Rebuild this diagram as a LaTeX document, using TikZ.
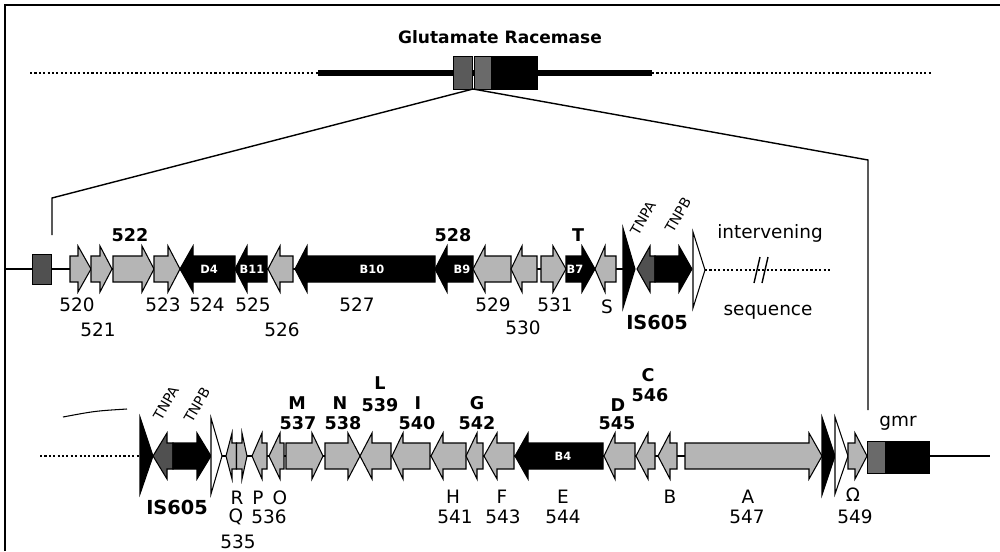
\documentclass[tikz,border=0pt]{standalone}
\usepackage{fontspec}
\setmainfont{DejaVu Sans}
\definecolor{GeneGray}{HTML}{B5B5B5}
\definecolor{TnpGray}{HTML}{505050}
\definecolor{BoxGray}{HTML}{6A6A6A}
\newcommand{\gene}[5]{\draw[gene,#5] (#1,#4-13) -- (#2,#4-13) -- (#2,#4-23) -- (#3,#4)
  -- (#2,#4+23) -- (#2,#4+13) -- (#1,#4+13) -- cycle;}
\begin{document}
\begin{tikzpicture}[x=0.02cm,y=-0.02cm,
    gene/.style={draw=black,line width=0.6pt,fill=GeneGray,line join=miter},
    blk/.style={fill=black},
    num/.style={inner sep=0.5pt,font=\fontsize{10.5}{12}\selectfont},
    bnum/.style={inner sep=0.5pt,font=\bfseries\fontsize{10}{12}\selectfont},
    bis/.style={inner sep=0.5pt,font=\bfseries\fontsize{11}{13}\selectfont},
    inlab/.style={inner sep=0.5pt,font=\bfseries\fontsize{6.5}{8}\selectfont,text=white},
    tnp/.style={inner sep=0pt,font=\fontsize{8}{9}\selectfont,rotate=60},
    dots/.style={line width=1.2pt,dash pattern=on 1.2pt off 1.3pt},
    ir/.style={draw=black,line width=0.6pt,line join=miter},
    zoomline/.style={line width=0.8pt}
  ]
  \useasboundingbox (0,0) rectangle (1000,551);
  \draw[line width=1pt] (5,551) -- (5,5) -- (1000,5);

  % chromosome with glutamate racemase locus
  \node[inner sep=0.5pt,font=\bfseries\fontsize{9.7}{12}\selectfont] (title) at (500,37) {Glutamate Racemase};
  \draw[dots] (30,73) -- (318,73);
  \draw[dots] (652,73) -- (932,73);
  \draw[line width=3pt] (318,73) -- (652,73);
  \draw[fill=BoxGray!85!black] (453,56) rectangle (472,89);
  \draw[fill=BoxGray] (474,56) rectangle (491,89);
  \draw[fill=black] (491,56) rectangle (537,89);
  \coordinate (grbot) at (473,89);
  \coordinate (lcorner) at (52,198);
  \coordinate (lend) at (52,235);
  \coordinate (rcorner) at (868,160);
  \coordinate (rend) at (868,410);
  \draw[zoomline] (lend) -- (lcorner) -- (grbot) -- (rcorner) -- (rend);

  % first row
  \draw[line width=0.6pt] (5,269) -- (623,269);
  \draw[fill=TnpGray] (32,254) rectangle (51,284);
  \gene{70}{78}{91}{269}{}
  \gene{91}{100}{112}{269}{}
  \gene{113}{142}{154}{269}{}
  \gene{154}{168}{180}{269}{}
  \gene{235}{193}{180}{269}{blk}
  \gene{267}{247}{235}{269}{blk}
  \gene{293}{280}{268}{269}{}
  \gene{435}{307}{295}{269}{blk}
  \gene{473}{447}{435}{269}{blk}
  \gene{511}{485}{473}{269}{}
  \gene{537}{522}{511}{269}{}
  \gene{541}{553}{566}{269}{}
  \gene{566}{582}{595}{269}{blk}
  \gene{616}{605}{595}{269}{}
  \draw[ir,fill=black] (623,228) -- (635,269) -- (623,308) -- cycle;
  \gene{655}{650}{637}{269}{fill=TnpGray}
  \gene{655}{679}{692}{269}{blk}
  \draw[ir,fill=white] (693,232) -- (705,270) -- (693,308) -- cycle;
  \draw[dots] (705,270) -- (832,270);
  \draw[line width=0.8pt] (754,283) -- (760,257) (762,283) -- (768,257);

  \node[inlab] (d4) at (209,269) {D4};
  \node[inlab] (b11) at (252,269) {B11};
  \node[inlab] (b10) at (372,269) {B10};
  \node[inlab] (b9) at (462,269) {B9};
  \node[inlab] (b7) at (575,269) {B7};
  \node[bnum] (l522) at (130,235) {522};
  \node[bnum] (l528) at (453,235) {528};
  \node[bnum] (lT) at (578,235) {T};
  \node[num] (l520) at (77,305) {520};
  \node[num] (l521) at (98,330) {521};
  \node[num] (l523) at (163,305) {523};
  \node[num] (l524) at (207,305) {524};
  \node[num] (l525) at (253,305) {525};
  \node[num] (l526) at (282,330) {526};
  \node[num] (l527) at (357,305) {527};
  \node[num] (l529) at (493,305) {529};
  \node[num] (l530) at (523,328) {530};
  \node[num] (l531) at (555,305) {531};
  \node[num] (lS) at (607,307) {S};
  \node[tnp] (tnpa1) at (643,218) {TNPA};
  \node[tnp] (tnpb1) at (678,215) {TNPB};
  \node[bis] (is1) at (657,322) {IS605};
  \node[num] (intv) at (770,233) {intervening};
  \node[num] (seqn) at (768,312) {sequence};

  % second row
  \draw[line width=0.6pt] (63,417) .. controls (95,411) .. (127,409);
  \draw[dots] (40,456) -- (140,456);
  \draw[line width=0.6pt] (222,456) -- (990,456);
  \draw[ir,fill=black] (140,417) -- (153,456) -- (140,494) -- cycle;
  \gene{173}{167}{153}{456}{fill=TnpGray}
  \gene{173}{197}{211}{456}{blk}
  \draw[ir,fill=white] (211,418) -- (222,456) -- (211,494) -- cycle;
  \gene{236.5}{232}{226}{456}{}
  \gene{236.5}{242}{247}{456}{}
  \gene{267}{262}{252}{456}{}
  \gene{284}{280}{269}{456}{}
  \gene{286}{312}{323}{456}{}
  \gene{325}{348}{360}{456}{}
  \gene{391}{372}{360}{456}{}
  \gene{430}{403}{392}{456}{}
  \gene{466}{443}{431}{456}{}
  \gene{483}{477}{466}{456}{}
  \gene{514}{497}{484}{456}{}
  \gene{603}{528}{515}{456}{blk}
  \gene{635}{615}{604}{456}{}
  \gene{655}{648}{636}{456}{}
  \gene{677}{670}{658}{456}{}
  \gene{685}{809}{822}{456}{}
  \draw[ir,fill=black] (822,417) -- (835,456) -- (822,495) -- cycle;
  \draw[ir,fill=white] (835,417) -- (848,456) -- (835,494) -- cycle;
  \gene{848}{855}{867}{456}{}
  \draw[fill=black] (867,441) rectangle (929,473);
  \draw[fill=BoxGray] (867,441) rectangle (885,473);

  \node[inlab] (b4) at (563,456) {B4};
  \node[tnp] (tnpa2) at (166,403) {TNPA};
  \node[tnp] (tnpb2) at (197,405) {TNPB};
  \node[bis] (is2) at (177,507) {IS605};
  \node[num] (lR) at (237,498) {R};
  \node[num] (lP) at (258,498) {P};
  \node[num] (lO) at (280,498) {O};
  \node[num] (lQ) at (236,517) {Q};
  \node[num] (l536) at (269,517) {536};
  \node[num] (l535) at (238,542) {535};
  \node[bnum] (lM) at (297,403) {M};
  \node[bnum] (l537) at (298,423) {537};
  \node[bnum] (lN) at (340,403) {N};
  \node[bnum] (l538) at (343,423) {538};
  \node[bnum] (lL) at (380,383) {L};
  \node[bnum] (l539) at (380,405) {539};
  \node[bnum] (lI) at (418,403) {I};
  \node[bnum] (l540) at (417,423) {540};
  \node[bnum] (lG) at (477,403) {G};
  \node[bnum] (l542) at (477,423) {542};
  \node[bnum] (lD) at (618,405) {D};
  \node[bnum] (l545) at (617,423) {545};
  \node[bnum] (lC) at (648,375) {C};
  \node[bnum] (l546) at (650,395) {546};
  \node[num] (lH) at (453,497) {H};
  \node[num] (l541) at (455,517) {541};
  \node[num] (lF) at (502,497) {F};
  \node[num] (l543) at (503,517) {543};
  \node[num] (lE) at (563,497) {E};
  \node[num] (l544) at (563,517) {544};
  \node[num] (lB) at (670,497) {B};
  \node[num] (lA) at (748,497) {A};
  \node[num] (l547) at (747,517) {547};
  \node[num] (lOm) at (853,495) {Ω};
  \node[num] (l549) at (855,517) {549};
  \node[num] (gmr) at (898,423) {gmr};
\end{tikzpicture}
\end{document}
